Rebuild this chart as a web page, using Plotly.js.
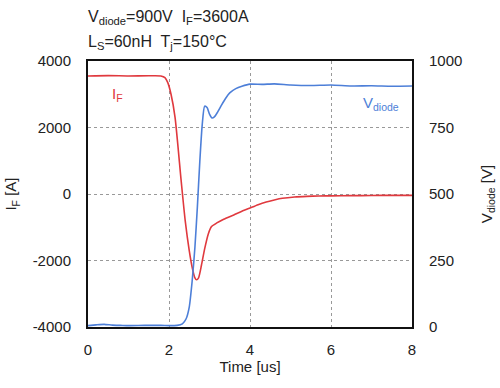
<!DOCTYPE html>
<html>
<head>
<meta charset="utf-8">
<script src="https://cdn.plot.ly/plotly-3.0.1.min.js"></script>
<style>html,body{margin:0;padding:0;background:#fff;}#chart{width:500px;height:388px;}</style>
</head>
<body>
<div id="chart"></div>
<script>
// Forward current I_F [A] vs time [us]
const tIF = [0, 0.5, 1.0, 1.5, 1.8, 1.9, 1.97, 2.05, 2.15, 2.3, 2.4, 2.5, 2.58, 2.64, 2.68, 2.73, 2.8, 2.88, 2.97, 3.05, 3.18, 3.35, 3.6, 3.8, 4.0, 4.2, 4.4, 4.6, 4.8, 5.1, 5.4, 5.7, 6.0, 6.5, 7.0, 7.5, 8.0];
const iF  = [3550, 3560, 3550, 3555, 3550, 3500, 3350, 3000, 2300, 400, -800, -1700, -2250, -2520, -2580, -2520, -2150, -1650, -1200, -980, -870, -760, -630, -520, -420, -320, -240, -180, -130, -90, -70, -60, -55, -50, -45, -40, -40];
// Diode voltage V_diode [V] vs time [us]
const tV = [0, 0.2, 0.4, 0.6, 0.8, 1.0, 1.4, 1.8, 2.0, 2.2, 2.33, 2.42, 2.5, 2.57, 2.64, 2.7, 2.76, 2.82, 2.88, 2.94, 3.0, 3.06, 3.12, 3.2, 3.3, 3.4, 3.5, 3.65, 3.8, 4.0, 4.3, 4.6, 5.0, 5.5, 6.0, 6.5, 7.0, 7.5, 8.0];
const vD = [5, 8, 10, 7, 6, 5, 6, 6, 5, 6, 12, 30, 75, 170, 300, 450, 620, 760, 830, 825, 800, 786, 790, 808, 835, 860, 880, 896, 905, 913, 912, 914, 910, 908, 910, 906, 907, 905, 906];
const xTicks = [0, 2, 4, 6, 8];
const yTicks = [-4000, -2000, 0, 2000, 4000];
const y2Ticks = [0, 250, 500, 750, 1000];

const font = {family: 'Liberation Sans, Arial, sans-serif', size: 15, color: '#222'};

const traces = [
  {x: tIF, y: iF, type: 'scatter', mode: 'lines', line: {color: '#e0393e', width: 1.6, shape: 'spline', smoothing: 0.6}, yaxis: 'y', hoverinfo: 'skip'},
  {x: tV, y: vD, type: 'scatter', mode: 'lines', line: {color: '#4d7fd8', width: 1.6, shape: 'spline', smoothing: 0.6}, yaxis: 'y2', hoverinfo: 'skip'}
];

const layout = {
  width: 500, height: 388,
  margin: {l: 88, r: 88, t: 61, b: 61},
  paper_bgcolor: '#fff', plot_bgcolor: '#fff',
  showlegend: false,
  font: font,
  xaxis: {
    range: [0, 8], tickvals: xTicks, ticktext: xTicks.map(String),
    showgrid: true, gridcolor: '#999', griddash: 'dot', gridwidth: 1,
    showline: true, linecolor: '#111', linewidth: 2, mirror: true,
    zeroline: false, ticks: '', ticklabelstandoff: 8,
    title: {text: 'Time [us]', font: font, standoff: 4},
    tickfont: font
  },
  yaxis: {
    range: [-4000, 4000], tickvals: yTicks, ticktext: yTicks.map(String),
    showgrid: true, gridcolor: '#999', griddash: 'dot', gridwidth: 1,
    showline: true, linecolor: '#111', linewidth: 2, mirror: false,
    zeroline: false, ticks: '', ticklabelstandoff: 12,
    title: {text: 'I<sub>F</sub> [A]', font: font, standoff: 12},
    tickfont: font
  },
  yaxis2: {
    range: [0, 1000], tickvals: y2Ticks, ticktext: y2Ticks.map(String),
    overlaying: 'y', side: 'right', showgrid: false,
    showline: true, linecolor: '#111', linewidth: 2,
    zeroline: false, ticks: '', ticklabelstandoff: 12,
    title: {text: 'V<sub>diode</sub> [V]', font: font, standoff: 20},
    tickfont: font
  },
  annotations: [
    {xref: 'paper', yref: 'paper', x: -0.005, y: 1.165, xanchor: 'left', yanchor: 'middle', showarrow: false,
     text: 'V<sub>diode</sub>=900V  I<sub>F</sub>=3600A', font: {family: font.family, size: 16, color: '#222'}},
    {xref: 'paper', yref: 'paper', x: -0.005, y: 1.071, xanchor: 'left', yanchor: 'middle', showarrow: false,
     text: 'L<sub>S</sub>=60nH  T<sub>j</sub>=150°C', font: {family: font.family, size: 16, color: '#222'}},
    {xref: 'x', yref: 'y', x: 0.55, y: 3000, xanchor: 'left', yanchor: 'middle', showarrow: false,
     text: 'I<sub>F</sub>', font: {family: font.family, size: 15, color: '#e0393e'}},
    {xref: 'x', yref: 'y2', x: 6.75, y: 840, xanchor: 'left', yanchor: 'middle', showarrow: false,
     text: 'V<sub>diode</sub>', font: {family: font.family, size: 15, color: '#4d7fd8'}}
  ]
};

Plotly.newPlot('chart', traces, layout, {staticPlot: true, displayModeBar: false});
</script>
</body>
</html>
